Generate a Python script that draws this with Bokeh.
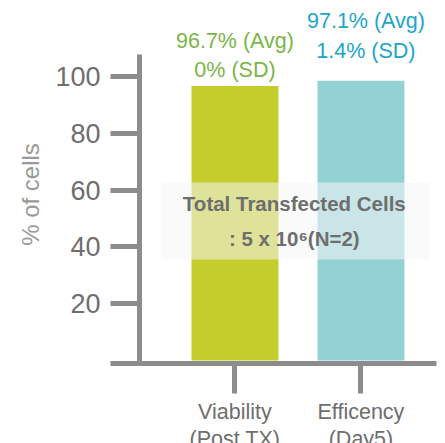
import math
from bokeh.plotting import figure
from bokeh.models import (Range1d, LinearAxis, FixedTicker, ColumnDataSource,
                          BoxAnnotation, Label)
from bokeh.embed import file_html
from bokeh.resources import INLINE
from bokeh.core.properties import value

# ---- data ----
categories = ["Viability\n(Post TX)", "Efficency\n(Day5)"]
values = [96.7, 98.6]
top_labels = ["96.7% (Avg)\n0% (SD)", "97.1% (Avg)\n1.4% (SD)"]
bar_colors = ["#c4cd2b", "#92d1d4"]
label_colors = ["#7bb547", "#1ba6c8"]
y_ticks = [20, 40, 60, 80, 100]
y_title = "% of cells"
note_text = "Total Transfected Cells\n: 5 x 10\u2076(N=2)"

xs = [i + 1 for i in range(len(categories))]

FONT = "Liberation Sans"
GRAY = "#6e6e6e"
AXIS = "#8c8c8c"

p = figure(width=445, height=443, output_backend="svg", toolbar_location=None,
           x_range=Range1d(-0.861, 2.671), y_range=Range1d(-29.25, 126.87),
           min_border_left=0, min_border_right=0, min_border_top=0, min_border_bottom=0,
           x_axis_type=None, y_axis_type=None)
p.grid.visible = False
p.outline_line_color = None
p.background_fill_color = "white"
p.border_fill_color = "white"

src = ColumnDataSource(dict(x=xs, top=values, color=bar_colors, label=top_labels,
                            lcolor=label_colors, yoff=[-4, -18], xoff=[0, 5]))
p.vbar(x="x", top="top", bottom=0, width=0.69, fill_color="color", line_color=None, source=src)

p.text(x="x", y="top", text="label", source=src, text_color="lcolor",
       text_font=value(FONT), text_font_size="21.5px", text_align="center",
       text_baseline="bottom", y_offset="yoff", x_offset="xoff", text_line_height=1.22)

# Overlay box with note
p.add_layout(BoxAnnotation(left=0.417, right=2.544, bottom=35.6, top=62.7,
                           fill_color="#f6f6f6", fill_alpha=0.55, line_color=None))
p.add_layout(Label(x=1.471, y=49.2, text=note_text, text_font=FONT, text_font_size="20.5px",
                   text_font_style="bold", text_color=GRAY, text_align="center",
                   text_baseline="middle", text_line_height=1.55))

# Y axis title
p.add_layout(Label(x=30, y=249, x_units="screen", y_units="screen", text=y_title,
                   angle=math.pi / 2, text_font=FONT, text_font_size="24px",
                   text_color="#9a9a9a", text_align="center", text_baseline="alphabetic"))

# Y axis
yax = LinearAxis(fixed_location=0.242, bounds=(-1.06, 107.8),
                 ticker=FixedTicker(ticks=y_ticks))
yax.axis_line_color = AXIS
yax.axis_line_width = 5
yax.major_tick_line_color = AXIS
yax.major_tick_line_width = 5
yax.major_tick_out = 29
yax.major_tick_in = 0
yax.minor_tick_line_color = None
yax.major_label_text_font = FONT
yax.major_label_text_font_size = "27px"
yax.major_label_text_color = GRAY
yax.major_label_standoff = 10
p.add_layout(yax, "left")

# X axis
xax = LinearAxis(fixed_location=-1.06, bounds=(0.012, 2.599),
                 ticker=FixedTicker(ticks=xs),
                 major_label_overrides={x: c for x, c in zip(xs, categories)})
xax.axis_line_color = AXIS
xax.axis_line_width = 5
xax.major_tick_line_color = AXIS
xax.major_tick_line_width = 5
xax.major_tick_out = 30
xax.major_tick_in = 0
xax.minor_tick_line_color = None
xax.major_label_text_font = FONT
xax.major_label_text_font_size = "21.5px"
xax.major_label_text_color = GRAY
xax.major_label_standoff = 6
xax.major_label_text_line_height = 1.15
p.add_layout(xax, "below")

open("out.html", "w").write(file_html(p, INLINE))
